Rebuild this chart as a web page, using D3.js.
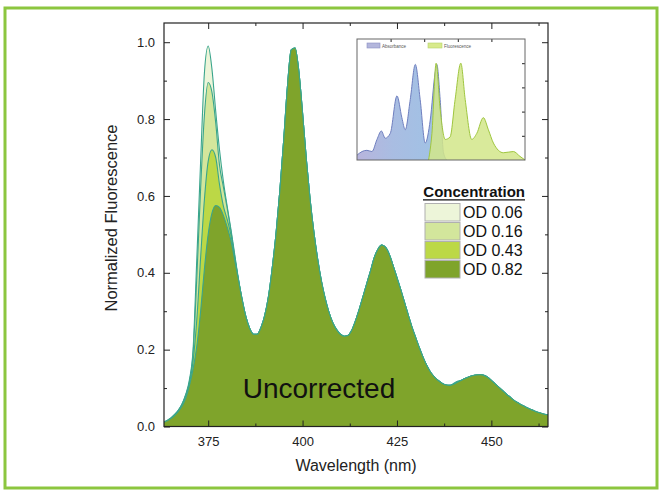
<!DOCTYPE html>
<html><head><meta charset="utf-8">
<script src="https://cdn.jsdelivr.net/npm/d3@7"></script>
<style>
html,body{margin:0;padding:0;background:#fff;}
svg{display:block;font-family:"Liberation Sans",Arial,Helvetica,sans-serif;}
</style></head>
<body>
<svg id="chart" width="662" height="492"></svg>
<script>
// ---------- data ----------
const wavelengths = d3.range(363, 466, 1);
const seriesNames = ["OD 0.06", "OD 0.16", "OD 0.43", "OD 0.82"];
const od006 = [0.010,0.015,0.021,0.030,0.041,0.057,0.082,0.120,0.200,0.440,0.690,0.920,0.990,0.930,0.820,0.720,0.640,0.575,0.515,0.450,0.385,
 0.330,0.285,0.255,0.240,0.240,0.258,0.290,0.340,0.415,0.505,0.615,0.745,0.885,0.980,0.985,0.925,0.815,0.695,0.590,0.505,0.435,0.378,0.333,0.297,0.270,0.252,0.240,0.235,
 0.237,0.250,0.275,0.305,0.338,0.372,0.405,0.440,0.462,0.472,0.466,0.447,0.418,0.387,0.356,0.323,0.290,0.258,0.230,0.203,0.178,0.157,0.140,0.128,0.119,0.112,0.108,0.107,
 0.112,0.118,0.120,0.125,0.129,0.132,0.134,0.135,0.133,0.128,0.120,0.111,0.102,0.093,0.084,0.076,0.068,0.062,0.056,0.051,0.046,0.042,0.038,0.035,0.032,0.030];
const od016 = [0.010,0.015,0.021,0.030,0.041,0.056,0.080,0.115,0.190,0.390,0.620,0.810,0.895,0.870,0.790,0.680,0.625,0.570,0.510,0.445,0.383,
 0.330,0.285,0.255,0.240,0.240,0.258,0.290,0.340,0.415,0.505,0.615,0.745,0.885,0.980,0.985,0.925,0.815,0.695,0.590,0.505,0.435,0.378,0.333,0.297,0.270,0.252,0.240,0.235,
 0.237,0.250,0.275,0.305,0.338,0.372,0.405,0.440,0.462,0.472,0.466,0.447,0.418,0.387,0.356,0.323,0.290,0.258,0.230,0.203,0.178,0.157,0.140,0.128,0.119,0.112,0.108,0.107,
 0.110,0.115,0.120,0.125,0.129,0.132,0.134,0.135,0.133,0.128,0.120,0.111,0.102,0.093,0.084,0.076,0.068,0.062,0.056,0.051,0.046,0.042,0.038,0.035,0.032,0.030];
const od043 = [0.010,0.014,0.020,0.029,0.040,0.055,0.078,0.110,0.170,0.280,0.440,0.590,0.690,0.720,0.700,0.630,0.575,0.540,0.500,0.440,0.382,
 0.330,0.285,0.255,0.240,0.240,0.258,0.290,0.340,0.415,0.505,0.615,0.745,0.885,0.980,0.985,0.925,0.815,0.695,0.590,0.505,0.435,0.378,0.333,0.297,0.270,0.252,0.240,0.235,
 0.237,0.250,0.275,0.305,0.338,0.372,0.405,0.440,0.462,0.472,0.466,0.447,0.418,0.387,0.356,0.323,0.290,0.258,0.230,0.203,0.178,0.157,0.140,0.128,0.119,0.112,0.108,0.107,
 0.110,0.115,0.120,0.125,0.129,0.132,0.134,0.135,0.133,0.128,0.120,0.111,0.102,0.093,0.084,0.076,0.068,0.062,0.056,0.051,0.046,0.042,0.038,0.035,0.032,0.030];
const od082 = [0.010,0.014,0.020,0.028,0.038,0.052,0.072,0.105,0.150,0.210,0.300,0.410,0.500,0.555,0.575,0.570,0.550,0.520,0.485,0.435,0.382,
 0.330,0.285,0.255,0.240,0.240,0.258,0.290,0.340,0.415,0.505,0.615,0.745,0.885,0.980,0.985,0.925,0.815,0.695,0.590,0.505,0.435,0.378,0.333,0.297,0.270,0.252,0.240,0.235,
 0.237,0.250,0.275,0.305,0.338,0.372,0.405,0.440,0.462,0.472,0.466,0.447,0.418,0.387,0.356,0.323,0.290,0.258,0.230,0.203,0.178,0.157,0.140,0.128,0.119,0.112,0.108,0.107,
 0.110,0.115,0.120,0.125,0.129,0.132,0.134,0.135,0.133,0.128,0.120,0.111,0.102,0.093,0.084,0.076,0.068,0.062,0.056,0.051,0.046,0.042,0.038,0.035,0.032,0.030];
const xTicks = [375, 400, 425, 450];
const xMinorTicks = [387.5, 412.5, 437.5, 462.5];
const yTicks = [0.0, 0.2, 0.4, 0.6, 0.8, 1.0];
const yMinorTicks = [0.1, 0.3, 0.5, 0.7, 0.9];

// inset (relative units)
const insetAbsX = [0,3.0,5.9,8.9,11.9,14.5,16.8,19.8,23.8,26.7,28.7,31.7,34.7,37.6,40.6,43.6,46.5,47.5,49.5,51.5,53.5];
const insetAbsY = [0.04,0.07,0.08,0.07,0.17,0.24,0.18,0.22,0.53,0.35,0.25,0.50,0.79,0.50,0.14,0.33,0.72,0.79,0.50,0.06,0.0];
const insetFluX = [42.6,44.6,47.1,49.5,52.5,55.4,58.4,61.8,64.4,68.3,71.3,75.2,78.2,81.2,87.1,93.1,97.0,100];
const insetFluY = [0.0,0.22,0.80,0.42,0.17,0.19,0.50,0.80,0.50,0.17,0.22,0.35,0.25,0.14,0.06,0.07,0.03,0.0];

// ---------- styles ----------
const fills = ["#edf5d9", "#d3e69c", "#bcd846", "#7fa42b"];
const strokeCol = "#3aa58c";

const svg = d3.select("#chart");

// outer green border
svg.append("rect").attr("x",5).attr("y",8).attr("width",652).attr("height",480)
  .attr("fill","none").attr("stroke","#8cc63f").attr("stroke-width",3);

const x = d3.scaleLinear().domain([363.3, 465]).range([164, 548]);
const y = d3.scaleLinear().domain([0, 1.05]).range([426.5, 23]);

const series = [od006, od016, od043, od082];
const area = d3.area().x((d,i)=>x(wavelengths[i])).y0(y(0)).y1(d=>y(d)).curve(d3.curveMonotoneX);
const line = d3.line().x((d,i)=>x(wavelengths[i])).y(d=>y(d)).curve(d3.curveMonotoneX);

svg.append("clipPath").attr("id","plotclip").append("rect")
  .attr("x",164).attr("y",23).attr("width",384).attr("height",403.5);
const plot = svg.append("g").attr("clip-path","url(#plotclip)");
series.forEach((s,k)=>{
  plot.append("path").datum(s).attr("d",area).attr("fill",fills[k]).attr("stroke","none");
  plot.append("path").datum(s).attr("d",line).attr("fill","none").attr("stroke",strokeCol).attr("stroke-width",1.1);
});

// "Uncorrected" label
svg.append("text").attr("x",319).attr("y",398).attr("text-anchor","middle")
  .attr("font-size",28).attr("fill","#111").text("Uncorrected");

// axes
const fmtY = d3.format(".1f");
function styleAxis(g){ g.select(".domain").remove(); g.selectAll("line").attr("stroke","#222"); }
svg.append("g").attr("transform",`translate(0,${y(0)})`)
  .call(d3.axisBottom(x).tickValues(xTicks).tickSize(-6).tickPadding(10).tickFormat(d3.format("d")))
  .call(styleAxis).call(g=>g.selectAll("text").attr("font-size",13).attr("fill","#222").attr("font-family","Liberation Sans, Arial"));
svg.append("g").attr("transform",`translate(0,${y(0)})`)
  .call(d3.axisBottom(x).tickValues(xMinorTicks).tickSize(-3).tickFormat(""))
  .call(styleAxis);
svg.append("g").attr("transform",`translate(0,${y(1.05)})`)
  .call(d3.axisTop(x).tickValues(xTicks).tickSize(-6).tickFormat("")).call(styleAxis);
svg.append("g").attr("transform",`translate(0,${y(1.05)})`)
  .call(d3.axisTop(x).tickValues(xMinorTicks).tickSize(-3).tickFormat("")).call(styleAxis);
svg.append("g").attr("transform",`translate(${x.range()[0]},0)`)
  .call(d3.axisLeft(y).tickValues(yTicks).tickSize(-6).tickPadding(9).tickFormat(fmtY))
  .call(styleAxis).call(g=>g.selectAll("text").attr("font-size",13).attr("fill","#222").attr("font-family","Liberation Sans, Arial"));
svg.append("g").attr("transform",`translate(${x.range()[0]},0)`)
  .call(d3.axisLeft(y).tickValues(yMinorTicks).tickSize(-3).tickFormat("")).call(styleAxis);
svg.append("g").attr("transform",`translate(${x.range()[1]},0)`)
  .call(d3.axisRight(y).tickValues(yTicks).tickSize(-6).tickFormat("")).call(styleAxis);
svg.append("g").attr("transform",`translate(${x.range()[1]},0)`)
  .call(d3.axisRight(y).tickValues(yMinorTicks).tickSize(-3).tickFormat("")).call(styleAxis);

// frame
svg.append("rect").attr("x",164).attr("y",23).attr("width",384).attr("height",403.5)
  .attr("fill","none").attr("stroke","#222").attr("stroke-width",1.2);

// axis titles
svg.append("text").attr("x",356).attr("y",471).attr("text-anchor","middle")
  .attr("font-size",16).attr("fill","#222").text("Wavelength (nm)");
svg.append("text").attr("transform","translate(117,218) rotate(-90)").attr("text-anchor","middle")
  .attr("font-size",16.5).attr("fill","#222").text("Normalized Fluorescence");

// legend
const lg = svg.append("g");
lg.append("text").attr("x",525).attr("y",197).attr("text-anchor","end")
  .attr("font-size",15).attr("font-weight","bold").attr("fill","#111").text("Concentration");
lg.append("line").attr("x1",423).attr("x2",525).attr("y1",199.8).attr("y2",199.8).attr("stroke","#111").attr("stroke-width",1.2);
seriesNames.forEach((n,k)=>{
  const yy = 203.5 + k*19;
  lg.append("rect").attr("x",425).attr("y",yy).attr("width",35).attr("height",17.5)
    .attr("fill",fills[k]).attr("stroke","#b0b0b0").attr("stroke-width",1);
  lg.append("text").attr("x",463).attr("y",yy+14).attr("font-size",16).attr("fill","#111").text(n);
});

// inset
const ix = d3.scaleLinear().domain([0,100]).range([357,525]);
const iy = d3.scaleLinear().domain([0,1]).range([160,39]);
const defs = svg.append("defs");
const grad = defs.append("linearGradient").attr("id","absgrad").attr("x1","0").attr("x2","1").attr("y1","0").attr("y2","0");
grad.append("stop").attr("offset","0%").attr("stop-color","#b8b4dc");
grad.append("stop").attr("offset","40%").attr("stop-color","#a9bde2");
grad.append("stop").attr("offset","100%").attr("stop-color","#9ec3e6");
const insetG = svg.append("g");
insetG.append("rect").attr("x",357).attr("y",39).attr("width",168).attr("height",121).attr("fill","#fff");
const iArea = d3.area().x(d=>ix(d[0])).y0(iy(0)).y1(d=>iy(d[1])).curve(d3.curveMonotoneX);
const iLine = d3.line().x(d=>ix(d[0])).y(d=>iy(d[1])).curve(d3.curveMonotoneX);
const absPts = insetAbsX.map((v,i)=>[v, insetAbsY[i]]);
const fluPts = insetFluX.map((v,i)=>[v, insetFluY[i]]);
insetG.append("path").datum(absPts).attr("d",iArea).attr("fill","url(#absgrad)");
insetG.append("path").datum(absPts).attr("d",iLine).attr("fill","none").attr("stroke","#6f7fbf").attr("stroke-width",1);
insetG.append("path").datum(fluPts).attr("d",iArea).attr("fill","#d2e68a").attr("fill-opacity",0.85);
insetG.append("path").datum(fluPts).attr("d",iLine).attr("fill","none").attr("stroke","#9fc63f").attr("stroke-width",1);
// inset ticks
const iTicksX = [20, 40, 60, 80];
const iTicksY = [0.2, 0.4, 0.6, 0.8];
insetG.append("g").attr("transform",`translate(0,${iy(1)})`)
  .call(d3.axisTop(ix).tickValues(iTicksX).tickSize(-3).tickFormat("")).call(styleAxis);
insetG.append("g").attr("transform",`translate(${ix(100)},0)`)
  .call(d3.axisRight(iy).tickValues(iTicksY).tickSize(-3).tickFormat("")).call(styleAxis);
insetG.append("rect").attr("x",357).attr("y",39).attr("width",168).attr("height",121)
  .attr("fill","none").attr("stroke","#666").attr("stroke-width",1);
// inset legend
insetG.append("rect").attr("x",367).attr("y",43).attr("width",13).attr("height",5).attr("fill","#b3b6dc").attr("stroke","#8a8fc4").attr("stroke-width",0.6);
insetG.append("text").attr("x",382).attr("y",47.5).attr("font-size",4.5).attr("fill","#555").text("Absorbance");
insetG.append("rect").attr("x",428).attr("y",43).attr("width",14).attr("height",5).attr("fill","#d8ea8c").attr("stroke","#b6d36a").attr("stroke-width",0.6);
insetG.append("text").attr("x",444).attr("y",47.5).attr("font-size",4.5).attr("fill","#555").text("Fluorescence");
</script>
</body></html>
